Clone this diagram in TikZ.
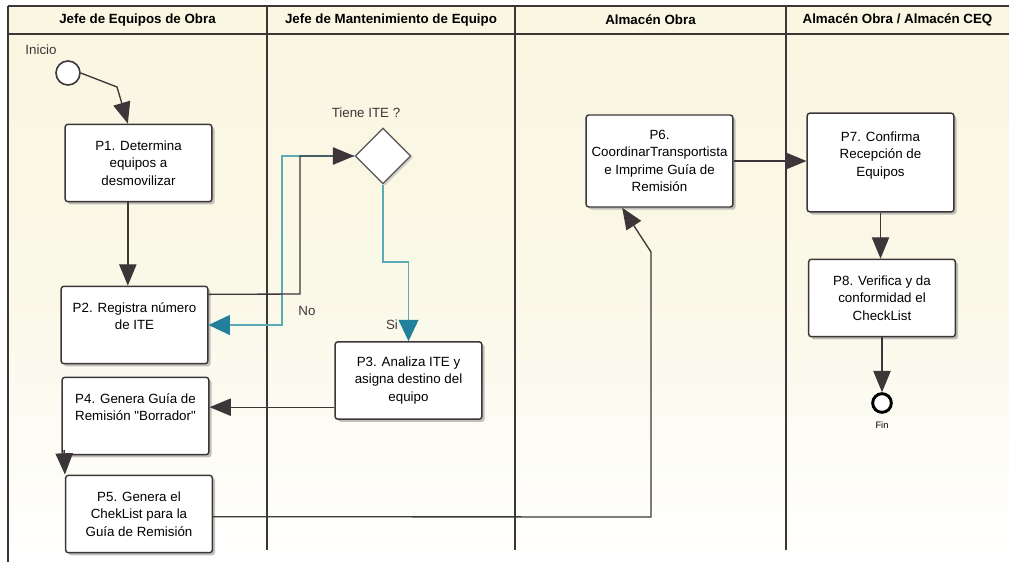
\documentclass[tikz,border=0pt]{standalone}
\usepackage{fontspec}
\setmainfont{Liberation Sans}
\newfontfamily\boxfont{Liberation Sans}
\usetikzlibrary{arrows.meta,shapes.geometric,shadows}
\definecolor{lane}{HTML}{3D3638}
\definecolor{cream}{HTML}{F9F6E1}
\definecolor{tealln}{HTML}{5AAAB8}
\definecolor{tealtip}{HTML}{23809A}
\begin{document}
\begin{tikzpicture}[
    x=0.75pt,y=-0.75pt,
    box/.style={draw=lane,fill=white,rounded corners=2pt,line width=1.1pt,align=center,
      minimum width=110pt,minimum height=58pt,inner sep=2pt,font=\boxfont\fontsize{10}{13}\selectfont,
      drop shadow={shadow xshift=2pt,shadow yshift=-2pt,fill=black!40,opacity=.6}},
    head/.style={font=\bfseries\fontsize{10}{12}\selectfont},
    lbl/.style={font=\fontsize{10}{12}\selectfont,text=lane},
    arr/.style={-{Triangle[length=16pt,width=13pt]},line width=1pt,draw=lane},
    tarr/.style={-{Triangle[length=16pt,width=15pt,color=tealtip]},line width=0.8pt,draw=tealln}
]
\useasboundingbox (0,0) rectangle (1009,562);
\shade[top color=cream,bottom color=white,middle color=cream!80] (8,6) rectangle (1009,562);
\draw[lane,line width=1.6pt] (8,6) -- (1009,6);
\draw[lane,line width=1.1pt] (8,34) -- (1009,34);
\draw[lane,line width=1.2pt] (8,6) -- (8,562);
\draw[lane,line width=1.2pt] (267,6) -- (267,550);
\draw[lane,line width=1.2pt] (515,6) -- (515,550);
\draw[lane,line width=1.2pt] (786,6) -- (786,550);
\node[head] (h1) at (137.5,20) {Jefe de Equipos de Obra};
\node[head] (h2) at (391,20) {Jefe de Mantenimiento de Equipo};
\node[head] (h3) at (650.5,20) {Almacén Obra};
\node[head] (h4) at (897.5,20) {Almacén Obra / Almacén CEQ};

\node[lbl] (lini) at (41,50) {Inicio};
\node[circle,draw=lane,fill=white,line width=1.2pt,minimum size=18pt,inner sep=0pt] (ini) at (68,73) {};
\node[box] (p1) at (138.5,163) {P1. Determina\\equipos a\\desmovilizar};
\node[box] (p2) at (134.5,325) {P2. Registra número\\de ITE\\~};
\node[box] (p4) at (135.5,416) {P4. Genera Guía de\\Remisión "Borrador"\\~};
\node[box] (p5) at (139,514) {P5. Genera el\\ChekList para la\\Guía de Remisión};
\node[lbl] (ltiene) at (366,113) {Tiene ITE ?};
\node[diamond,draw=lane!80,fill=white,line width=1.1pt,minimum size=42pt,inner sep=0pt,
  drop shadow={shadow xshift=1.5pt,shadow yshift=-1.5pt,fill=black!30,opacity=.5}] (dia) at (383,156) {};
\node[box] (p3) at (408.5,380.5) {P3. Analiza ITE y\\asigna destino del\\equipo};
\node[box,minimum height=69pt,inner xsep=1pt] (p6) at (659.5,161) {P6.\\CoordinarTransportista\\e Imprime Guía de\\Remisión};
\node[box,minimum height=74pt] (p7) at (880.5,162.5) {P7. Confirma\\Recepción de\\Equipos\\~};
\node[box] (p8) at (882,298) {P8. Verifica y da\\conformidad el\\CheckList};
\node[circle,draw=black,fill=white,line width=2.2pt,minimum size=14pt,inner sep=0pt] (fin) at (882,403) {};
\node[font=\fontsize{7}{8}\selectfont] (lfin) at (882,425) {Fin};
\node[lbl] (lno) at (307,311) {No};
\node[lbl] (lsi) at (392,325) {Si};

\draw[tarr] (dia.west) -| (282,325) -- (p2.east);
\draw[arr] ([yshift=23pt]p2.east) -- (300,294) |- (dia.west);
\draw[tarr] (dia.south) -- (383,262) -| (p3.north);
\draw[arr] (ini.east) -- (117,87) -- ([xshift=-8pt]p1.north);
\draw[arr] ([xshift=-8pt]p1.south) -- ([xshift=-8pt]p1.south |- p2.north);
\draw[arr] ([yshift=-20pt]p3.west) -- ([yshift=-20pt]p3.west -| p4.east);
\draw[arr] ([xshift=2pt,yshift=4pt]p4.south west) -- ([xshift=0pt]p5.north west);
\draw[arr] ([yshift=-2pt]p5.east) -- (651,517) -- (651,252) -- ([xshift=-28pt]p6.south);
\draw[arr] (p6.east) -- (p6.east -| p7.west);
\draw[arr] (p7.south) -- (p7.south |- p8.north);
\draw[arr] (p8.south) -- (fin.north);
\end{tikzpicture}
\end{document}
